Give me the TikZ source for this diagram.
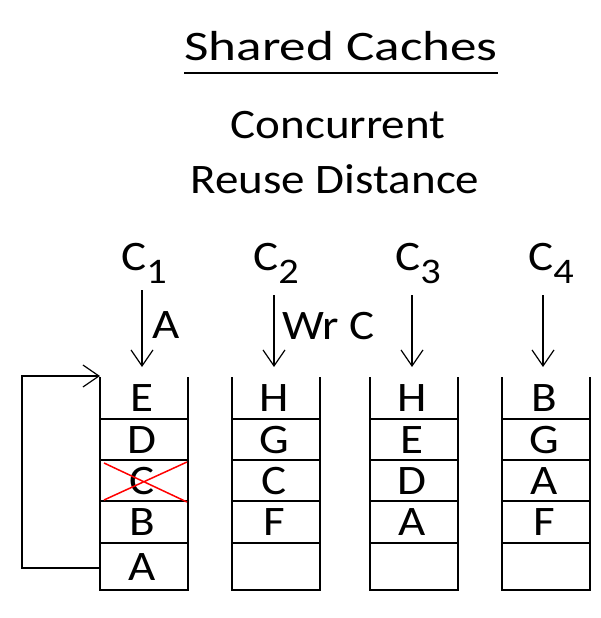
\documentclass[tikz,border=0pt]{standalone}
\usepackage{fontspec}
\setmainfont{Carlito}
\usetikzlibrary{arrows.meta}

\begin{document}
\begin{tikzpicture}[x=1pt, y=-1pt,
    big text/.style={font=\fontsize{42}{48}\selectfont, inner sep=0pt, xscale=1.12},
    stack line/.style={line width=1.6pt},
    feed/.style={line width=1.2pt, -{Straight Barb[length=16pt,width=22pt,line width=1.2pt]}}]
    % Define colours
    \definecolor{crossColour}{HTML}{FF0000}

    % Fix the page size
    \useasboundingbox (0,0) rectangle (601,618);

    % Title lines
    \node[big text, xscale=1.13, anchor=base] (title) at (341,60) {Shared Caches};
    \draw[line width=1.8pt] ([yshift=-13pt]title.base west) -- ([yshift=-13pt]title.base east);
    \node[big text, anchor=base] (concurrent) at (338,138) {Concurrent};
    \node[big text, anchor=base] (reuse) at (335,193) {Reuse Distance};

    % Draw the four stacks
    \foreach \x in {100,232,370,502} {
        \draw[stack line] (\x,377) -- (\x,590) -- (\x+88,590) -- (\x+88,377);
        \foreach \y in {419,460,501,543}
            \draw[stack line] (\x,\y) -- (\x+88,\y);
    }

    % Fill in the cache contents
    \foreach \x/\stk/\cells in {100/one/{E,D,C,B,A}, 232/two/{H,G,C,F}, 370/three/{H,E,D,A}, 502/four/{B,G,A,F}} {
        \foreach \l [count=\i] in \cells {
            \pgfmathsetmacro{\yc}{{398,440,481,522,567}[\i-1]}
            \node[big text] (\stk-\i) at (\x+42,\yc) {\l};
        }
    }

    % Cross out C in the first stack
    \draw[crossColour, line width=1.5pt] (104,463) -- (187,502) (104,500) -- (187,462);

    % Core labels
    \node[big text, anchor=base west] (c1) at (121,270) {C\raisebox{-13pt}{\fontsize{36}{40}\selectfont 1}};
    \node[big text, anchor=base west] (c2) at (253,270) {C\raisebox{-13pt}{\fontsize{36}{40}\selectfont 2}};
    \node[big text, anchor=base west] (c3) at (395,270) {C\raisebox{-13pt}{\fontsize{36}{40}\selectfont 3}};
    \node[big text, anchor=base west] (c4) at (528,270) {C\raisebox{-13pt}{\fontsize{36}{40}\selectfont 4}};

    % Requests from each core
    \coordinate (c1 out) at (142,290);
    \coordinate (c2 out) at (274,295);
    \coordinate (c3 out) at (412,295);
    \coordinate (c4 out) at (543,295);
    \coordinate (s1 in) at (142,367);
    \coordinate (s2 in) at (274,367);
    \coordinate (s3 in) at (412,367);
    \coordinate (s4 in) at (543,367);
    \draw[feed] (c1 out) -- (s1 in);
    \draw[feed] (c2 out) -- (s2 in);
    \draw[feed] (c3 out) -- (s3 in);
    \draw[feed] (c4 out) -- (s4 in);
    \node[big text, anchor=base west] (req1) at (152,338) {A};
    \node[big text, anchor=base west] (req2) at (282,339) {Wr C};

    % Move A back to the top
    \coordinate (loop out) at (100,568);
    \coordinate (loop in) at (100,376);
    \draw[feed] (loop out) -- (22,568) -- (22,376) -- (loop in);

\end{tikzpicture}
\end{document}
